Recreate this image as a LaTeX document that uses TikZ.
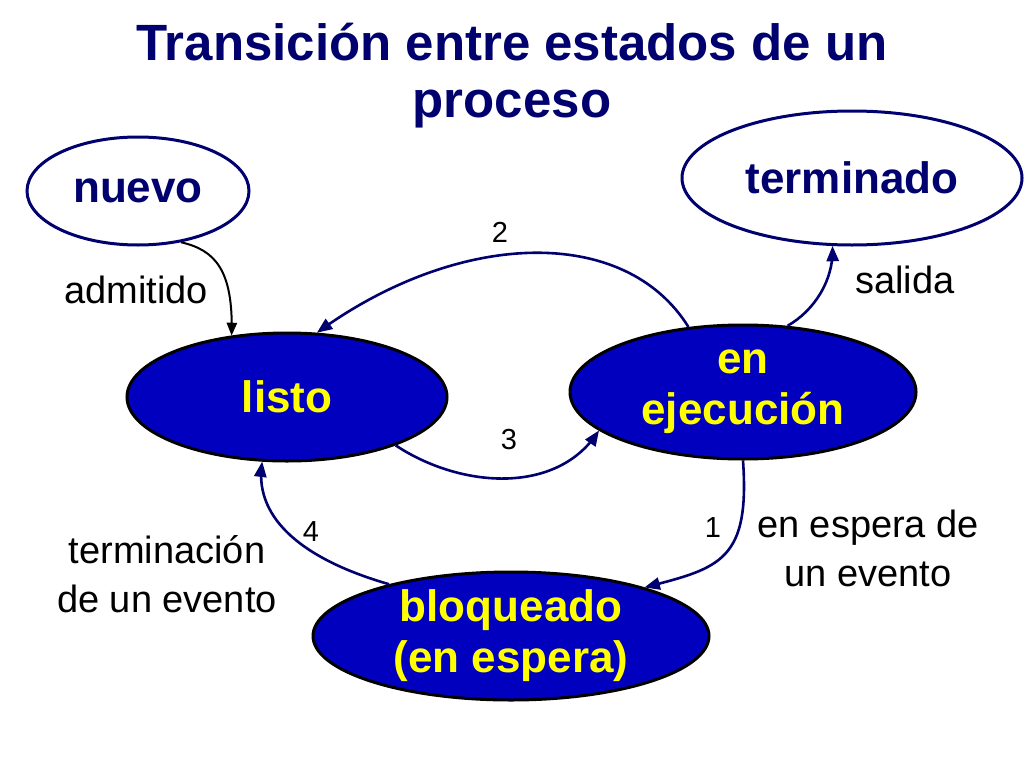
\documentclass[tikz,border=0pt]{standalone}
\usepackage{fontspec}
\setmainfont{Liberation Sans}
\usetikzlibrary{arrows,shapes.geometric}
\definecolor{azul}{RGB}{0,0,190}
\definecolor{marino}{RGB}{0,0,110}
\definecolor{amarillo}{RGB}{255,255,0}

\begin{document}
\begin{tikzpicture}[x=1pt,y=-1pt,>=triangle 45]
	\useasboundingbox (0,0) rectangle (1024,768);
	\tikzstyle{estado} = [ellipse,fill=azul,draw=black,line width=3pt,text=amarillo,align=center,inner xsep=0pt,inner ysep=-20pt,font=\fontsize{44}{51}\bfseries\selectfont];
	\tikzstyle{extremo} = [ellipse,fill=white,draw=marino,line width=3pt,text=marino,inner sep=0pt,font=\fontsize{44}{53}\bfseries\selectfont];
	\tikzstyle{etiqueta} = [align=center,inner sep=0pt,font=\fontsize{38}{49}\selectfont];
	\tikzstyle{numero} = [inner sep=0pt,font=\fontsize{29}{32}\selectfont];
	\tikzstyle{flecha} = [->,draw=marino,line width=2.6pt];
	\node[align=center,text=marino,font=\fontsize{51}{57}\bfseries\selectfont] (titulo) at (512,76) {Transición entre estados de un\\proceso};
	\node[extremo,minimum width=222,minimum height=108] (nuevo) at (138,191) {nuevo};
	\node[extremo,minimum width=340,minimum height=134] (terminado) at (852,178) {terminado};
	\node[estado,minimum width=320,minimum height=128] (listo) at (287,397) {listo};
	\node[estado,minimum width=346,minimum height=134] (ejecucion) at (743,392) {en\\ejecución};
	\node[estado,minimum width=396,minimum height=128] (bloqueado) at (511,636) {bloqueado\\(en espera)};
	\node[etiqueta] (admitido) at (136,290) {admitido};
	\node[etiqueta] (salida) at (905,280) {salida};
	\node[etiqueta] (espera) at (868,548) {en espera de\\un evento};
	\node[etiqueta] (fin) at (167,574) {terminación\\de un evento};
	\node[numero] (n2) at (500,232) {2};
	\node[numero] (n3) at (509,440) {3};
	\node[numero] (n1) at (713,528) {1};
	\node[numero] (n4) at (311,532) {4};
	\draw[->,line width=2pt] (nuevo.310) .. controls (215,250) and (233,270) .. (listo.132);
	\draw[flecha] (ejecucion.130) .. controls (625,225) and (460,230) .. (listo.65);
	\draw[flecha] (ejecucion.56) .. controls (815,310) and (833,280) .. (terminado.254);
	\draw[flecha] (listo.336) .. controls (460,488) and (555,495) .. (ejecucion.195);
	\draw[flecha] (ejecucion.270) .. controls (750,560) and (720,568) .. (bloqueado.20);
	\draw[flecha] (bloqueado.157) .. controls (305,560) and (255,520) .. (listo.249);
\end{tikzpicture}
\end{document}
